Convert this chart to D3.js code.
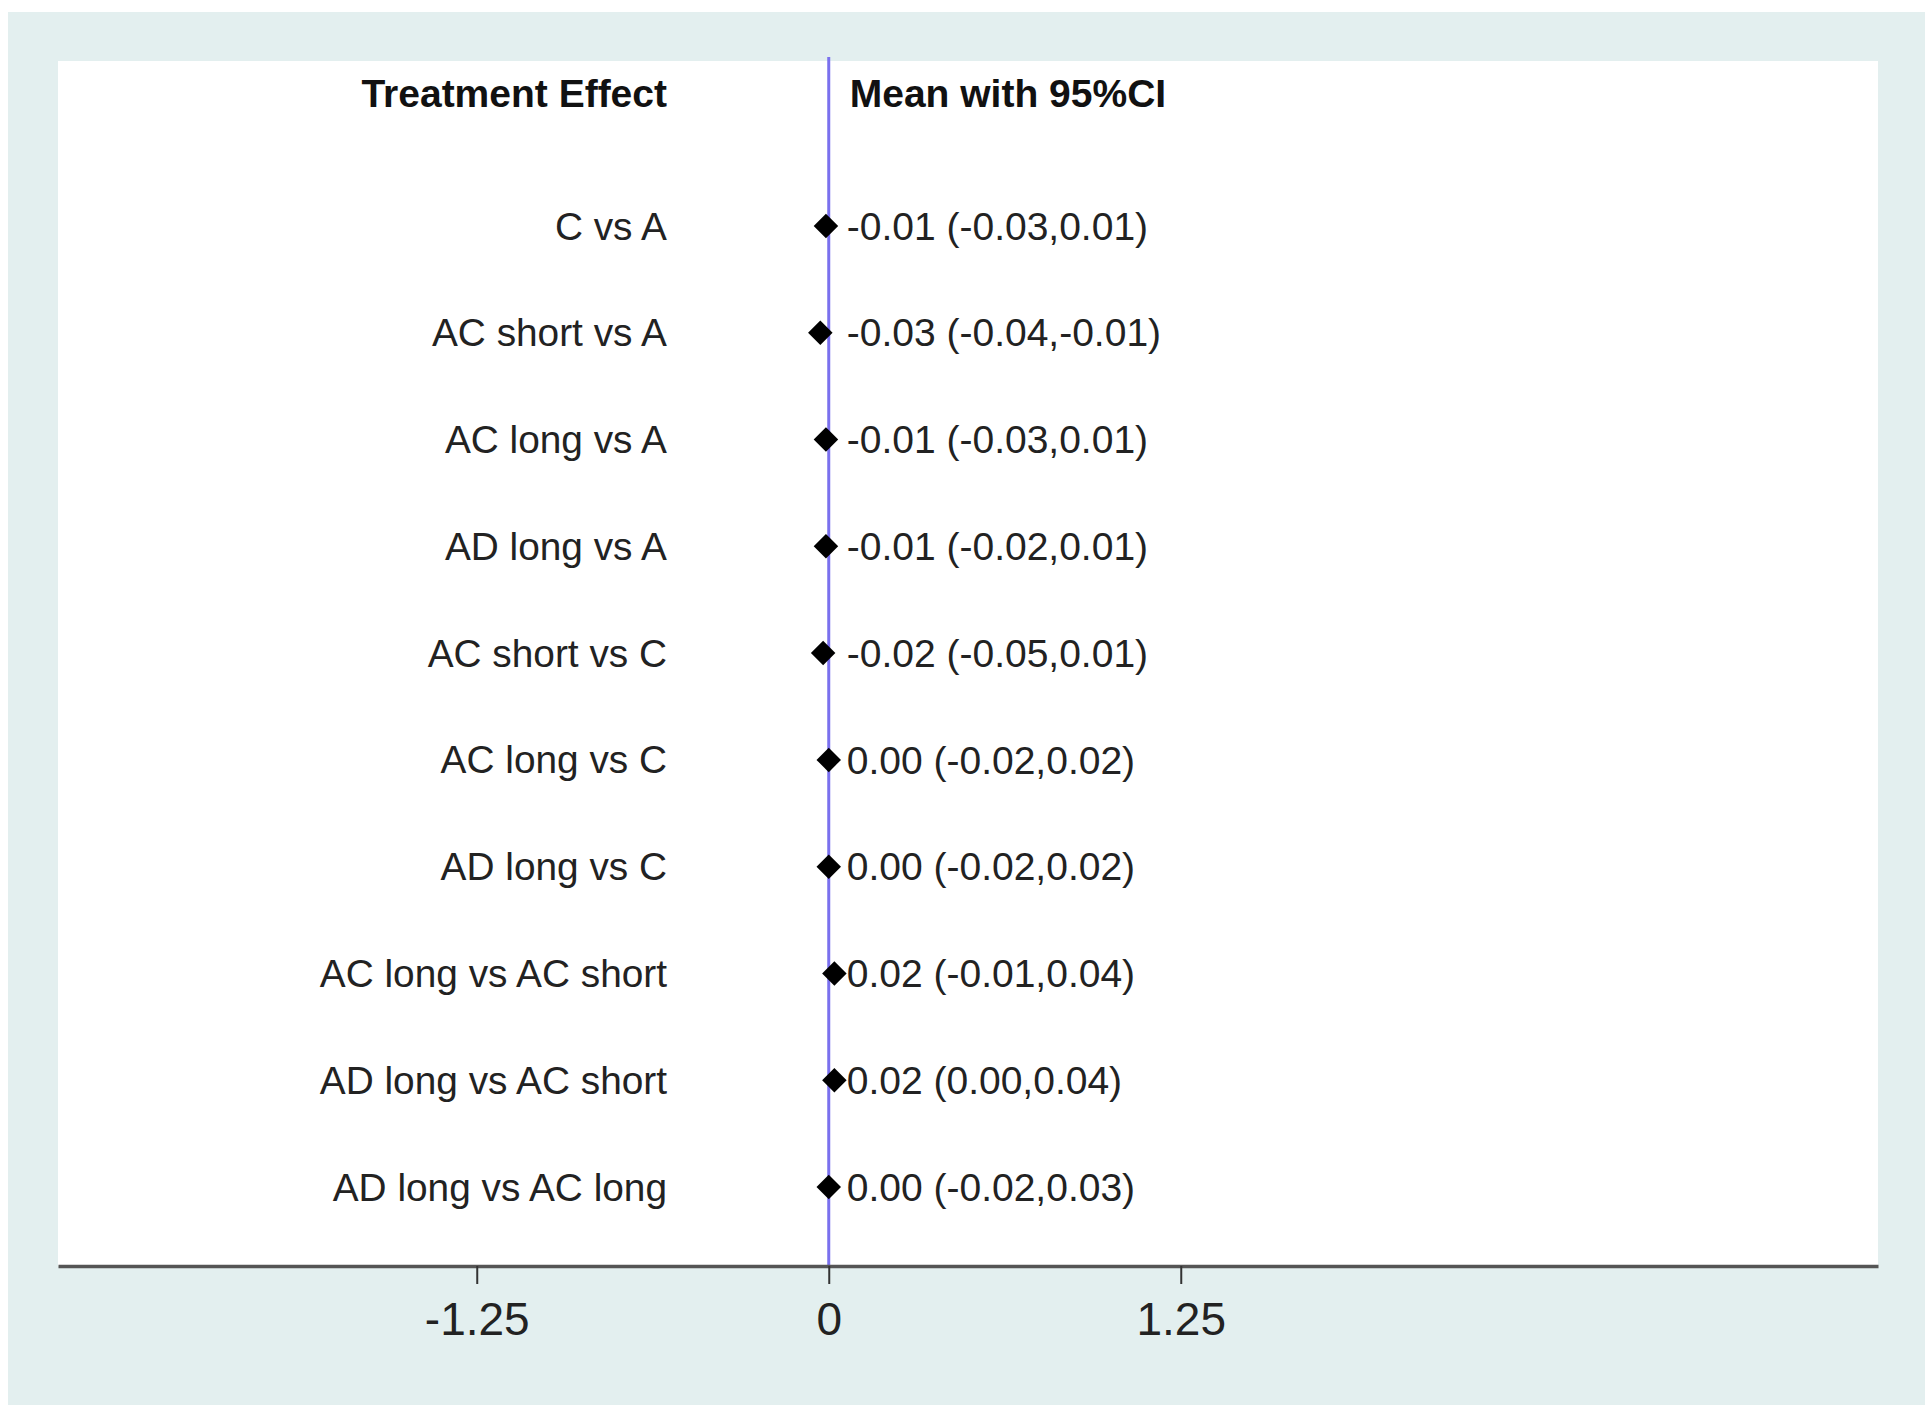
<!DOCTYPE html>
<html>
<head>
<meta charset="utf-8">
<script src="https://cdn.jsdelivr.net/npm/d3@7"></script>
<style>
  html, body { margin: 0; padding: 0; background: #ffffff; }
  svg { display: block; }
</style>
</head>
<body>
<svg id="chart" width="1925" height="1405"></svg>
<script>
// Pairwise treatment comparisons: mean difference with 95% confidence interval
const comparisons = [
  "C vs A",
  "AC short vs A",
  "AC long vs A",
  "AD long vs A",
  "AC short vs C",
  "AC long vs C",
  "AD long vs C",
  "AC long vs AC short",
  "AD long vs AC short",
  "AD long vs AC long"
];
const means = [-0.01, -0.03, -0.01, -0.01, -0.02, 0.00, 0.00, 0.02, 0.02, 0.00];
const lower = [-0.03, -0.04, -0.03, -0.02, -0.05, -0.02, -0.02, -0.01, 0.00, -0.02];
const upper = [0.01, -0.01, 0.01, 0.01, 0.01, 0.02, 0.02, 0.04, 0.04, 0.03];

const tickValues = [-1.25, 0, 1.25];
const tickLabels = ["-1.25", "0", "1.25"];

const headerLeft = "Treatment Effect";
const headerRight = "Mean with 95%CI";

const rows = comparisons.map((c, i) => ({
  name: c, mean: means[i], lo: lower[i], hi: upper[i]
}));

const W = 1925, H = 1405;
const panel = { left: 58, right: 1878, top: 61, bottom: 1266 };
const FONT = "'Liberation Sans', Arial, Helvetica, sans-serif";

const svg = d3.select("#chart");

// outer panel background
svg.append("rect")
  .attr("x", 8).attr("y", 12)
  .attr("width", W - 8).attr("height", H - 12)
  .attr("fill", "#e3efef");

// plot region
svg.append("rect")
  .attr("x", panel.left).attr("y", panel.top)
  .attr("width", panel.right - panel.left)
  .attr("height", panel.bottom - panel.top)
  .attr("fill", "#ffffff");

const x = d3.scaleLinear()
  .domain([-2.737, 3.726])
  .range([panel.left, panel.right]);

const y = d3.scalePoint()
  .domain(comparisons)
  .range([226, 1187]);

const step = y.step();
const labelRight = 667;
const valueLeft = x(0) + 18;

// reference line at zero effect
svg.append("line")
  .attr("x1", x(0)).attr("x2", x(0))
  .attr("y1", panel.top - 4).attr("y2", panel.bottom)
  .attr("stroke", "#7a70ee")
  .attr("stroke-width", 3);

// column headers
const headerY = y(comparisons[0]) - step * 1.24;
svg.append("text")
  .attr("x", labelRight).attr("y", headerY)
  .attr("dy", "0.35em")
  .attr("text-anchor", "end")
  .attr("font-family", FONT)
  .attr("font-size", 39)
  .attr("font-weight", "bold")
  .attr("fill", "#111")
  .text(headerLeft);

svg.append("text")
  .attr("x", valueLeft + 3).attr("y", headerY)
  .attr("dy", "0.35em")
  .attr("text-anchor", "start")
  .attr("font-family", FONT)
  .attr("font-size", 39)
  .attr("font-weight", "bold")
  .attr("fill", "#111")
  .text(headerRight);

// comparison labels
svg.append("g").selectAll("text")
  .data(rows)
  .join("text")
  .attr("x", labelRight)
  .attr("y", d => y(d.name))
  .attr("dy", "0.35em")
  .attr("text-anchor", "end")
  .attr("font-family", FONT)
  .attr("font-size", 38.8)
  .attr("fill", "#222")
  .text(d => d.name);

// confidence intervals
svg.append("g").selectAll("line")
  .data(rows)
  .join("line")
  .attr("x1", d => x(d.lo)).attr("x2", d => x(d.hi))
  .attr("y1", d => y(d.name)).attr("y2", d => y(d.name))
  .attr("stroke", "#000")
  .attr("stroke-width", 2);

// point estimates
const diamond = d3.symbol().type(d3.symbolSquare).size(300);
svg.append("g").selectAll("path")
  .data(rows)
  .join("path")
  .attr("d", diamond)
  .attr("transform", d => `translate(${x(d.mean)},${y(d.name)}) rotate(45)`)
  .attr("fill", "#000");

// estimate text
const fmt = v => v.toFixed(2);
svg.append("g").selectAll("text")
  .data(rows)
  .join("text")
  .attr("x", valueLeft)
  .attr("y", d => y(d.name))
  .attr("dy", "0.35em")
  .attr("text-anchor", "start")
  .attr("font-family", FONT)
  .attr("font-size", 39)
  .attr("fill", "#222")
  .text(d => `${fmt(d.mean)} (${fmt(d.lo)},${fmt(d.hi)})`);

// x axis
const axis = d3.axisBottom(x)
  .tickValues(tickValues)
  .tickFormat((d, i) => tickLabels[i])
  .tickSizeInner(18)
  .tickSizeOuter(0)
  .tickPadding(18);

const gx = svg.append("g")
  .attr("transform", `translate(0,${panel.bottom})`)
  .call(axis);

gx.select(".domain")
  .attr("stroke", "#555")
  .attr("stroke-width", 3.5);
gx.selectAll(".tick line")
  .attr("stroke", "#333")
  .attr("stroke-width", 2);
gx.selectAll(".tick text")
  .attr("font-family", FONT)
  .attr("font-size", 46)
  .attr("fill", "#222");
</script>
</body>
</html>
